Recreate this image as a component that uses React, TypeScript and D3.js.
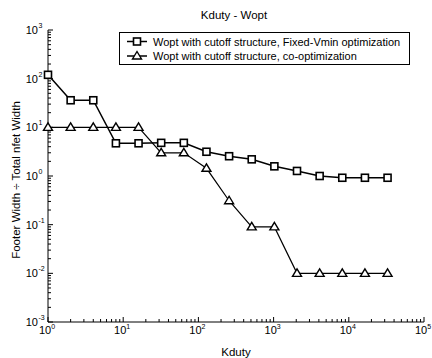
import React from "react";
import * as d3 from "d3";

const kduty = [1, 2, 4, 8, 16, 32, 64, 128, 256, 512, 1024, 2048, 4096, 8192, 16384, 32768];
const fixedVmin = [120, 36, 36, 4.7, 4.7, 4.8, 4.8, 3.15, 2.55, 2.2, 1.58, 1.27, 1.0, 0.92, 0.92, 0.92];
const coOpt = [10, 10, 10, 10, 10, 3.0, 3.0, 1.44, 0.31, 0.09, 0.09, 0.01, 0.01, 0.01, 0.01, 0.01];
const xTickExps = [0, 1, 2, 3, 4, 5];
const yTickExps = [-3, -2, -1, 0, 1, 2, 3];
const seriesNames = [
  "Wopt with cutoff structure, Fixed-Vmin optimization",
  "Wopt with cutoff structure, co-optimization",
];

const W = 432, H = 358;
const L = 48, R = 424, T = 30, B = 322;
const FONT = "Liberation Sans, Arial, sans-serif";

export default function App() {
  const x = d3.scaleLog().domain([1, 1e5]).range([L, R]);
  const y = d3.scaleLog().domain([1e-3, 1e3]).range([B, T]);
  const line = d3.line<[number, number]>().x(d => x(d[0])).y(d => y(d[1]));
  const sq = kduty.map((k, i) => [k, fixedVmin[i]] as [number, number]);
  const tr = kduty.map((k, i) => [k, coOpt[i]] as [number, number]);

  const xMinor: number[] = [];
  for (let e = 0; e < 5; e++) for (let m = 2; m <= 9; m++) xMinor.push(m * Math.pow(10, e));
  const yMinor: number[] = [];
  for (let e = -3; e < 3; e++) for (let m = 2; m <= 9; m++) yMinor.push(m * Math.pow(10, e));

  const S = 7;
  const square = (cx: number, cy: number, key: any) => (
    <rect key={key} x={cx - S / 2} y={cy - S / 2} width={S} height={S} fill="white" stroke="#000" strokeWidth={1.6} />
  );
  const tri = (cx: number, cy: number, key: any) => (
    <path key={key} d={`M${cx},${cy - 4.5} L${cx + 4.5},${cy + 3} L${cx - 4.5},${cy + 3} Z`} fill="white" stroke="#000" strokeWidth={1.4} />
  );

  return (
    <svg width={W} height={H} style={{ position: "absolute", left: 0, top: 0, background: "white" }} fontFamily={FONT}>
      <rect width={W} height={H} fill="white" />
      <text x={234} y={19} fontSize={11.5} textAnchor="middle" fill="#000">Kduty - Wopt</text>
      {/* axes */}
      <line x1={L} y1={B} x2={R} y2={B} stroke="#000" strokeWidth={1} />
      <line x1={L} y1={T} x2={L} y2={B} stroke="#000" strokeWidth={1} />
      {xTickExps.map(e => (
        <g key={"xt" + e}>
          <line x1={x(Math.pow(10, e))} x2={x(Math.pow(10, e))} y1={B} y2={B - 5} stroke="#000" />
          <text x={x(Math.pow(10, e)) - 1} y={334} fontSize={11} textAnchor="middle" fill="#000">
            10<tspan dy={-5} fontSize={7}>{e}</tspan>
          </text>
        </g>
      ))}
      {xMinor.map((v, i) => (
        <line key={"xm" + i} x1={x(v)} x2={x(v)} y1={B} y2={B - 3} stroke="#000" />
      ))}
      {yTickExps.map(e => (
        <g key={"yt" + e}>
          <line x1={L} x2={L + 5} y1={y(Math.pow(10, e))} y2={y(Math.pow(10, e))} stroke="#000" />
          <text x={38} y={y(Math.pow(10, e)) + 4} fontSize={11} textAnchor="end" fill="#000">10</text>
          <text x={38.5} y={y(Math.pow(10, e)) - 2} fontSize={7} textAnchor="start" fill="#000">{e}</text>
        </g>
      ))}
      {yMinor.map((v, i) => (
        <line key={"ym" + i} x1={L} x2={L + 3} y1={y(v)} y2={y(v)} stroke="#000" />
      ))}
      <text x={236} y={356} fontSize={11.5} textAnchor="middle" fill="#000">Kduty</text>
      <text transform={`translate(19.5,${(T + B) / 2 + 4}) rotate(-90)`} fontSize={11.5} textAnchor="middle" fill="#000">
        Footer Width ÷ Total nfet Width
      </text>
      {/* series */}
      <path d={line(sq) || ""} fill="none" stroke="#000" strokeWidth={1.5} />
      <path d={line(tr) || ""} fill="none" stroke="#000" strokeWidth={1.2} />
      {tr.map((d, i) => tri(x(d[0]), y(d[1]), "t" + i))}
      {sq.map((d, i) => square(x(d[0]), y(d[1]), "s" + i))}
      {/* legend */}
      <rect x={119.5} y={32.5} width={290} height={32} fill="white" stroke="#000" strokeWidth={1} />
      <line x1={127} x2={147} y1={41.5} y2={41.5} stroke="#000" strokeWidth={1.5} />
      {square(137, 41.5, "ls")}
      <text x={153} y={45.5} fontSize={11} fill="#000">{seriesNames[0]}</text>
      <line x1={127} x2={147} y1={56} y2={56} stroke="#000" strokeWidth={1.5} />
      {tri(137, 56, "lt")}
      <text x={153} y={60} fontSize={11} fill="#000">{seriesNames[1]}</text>
    </svg>
  );
}
